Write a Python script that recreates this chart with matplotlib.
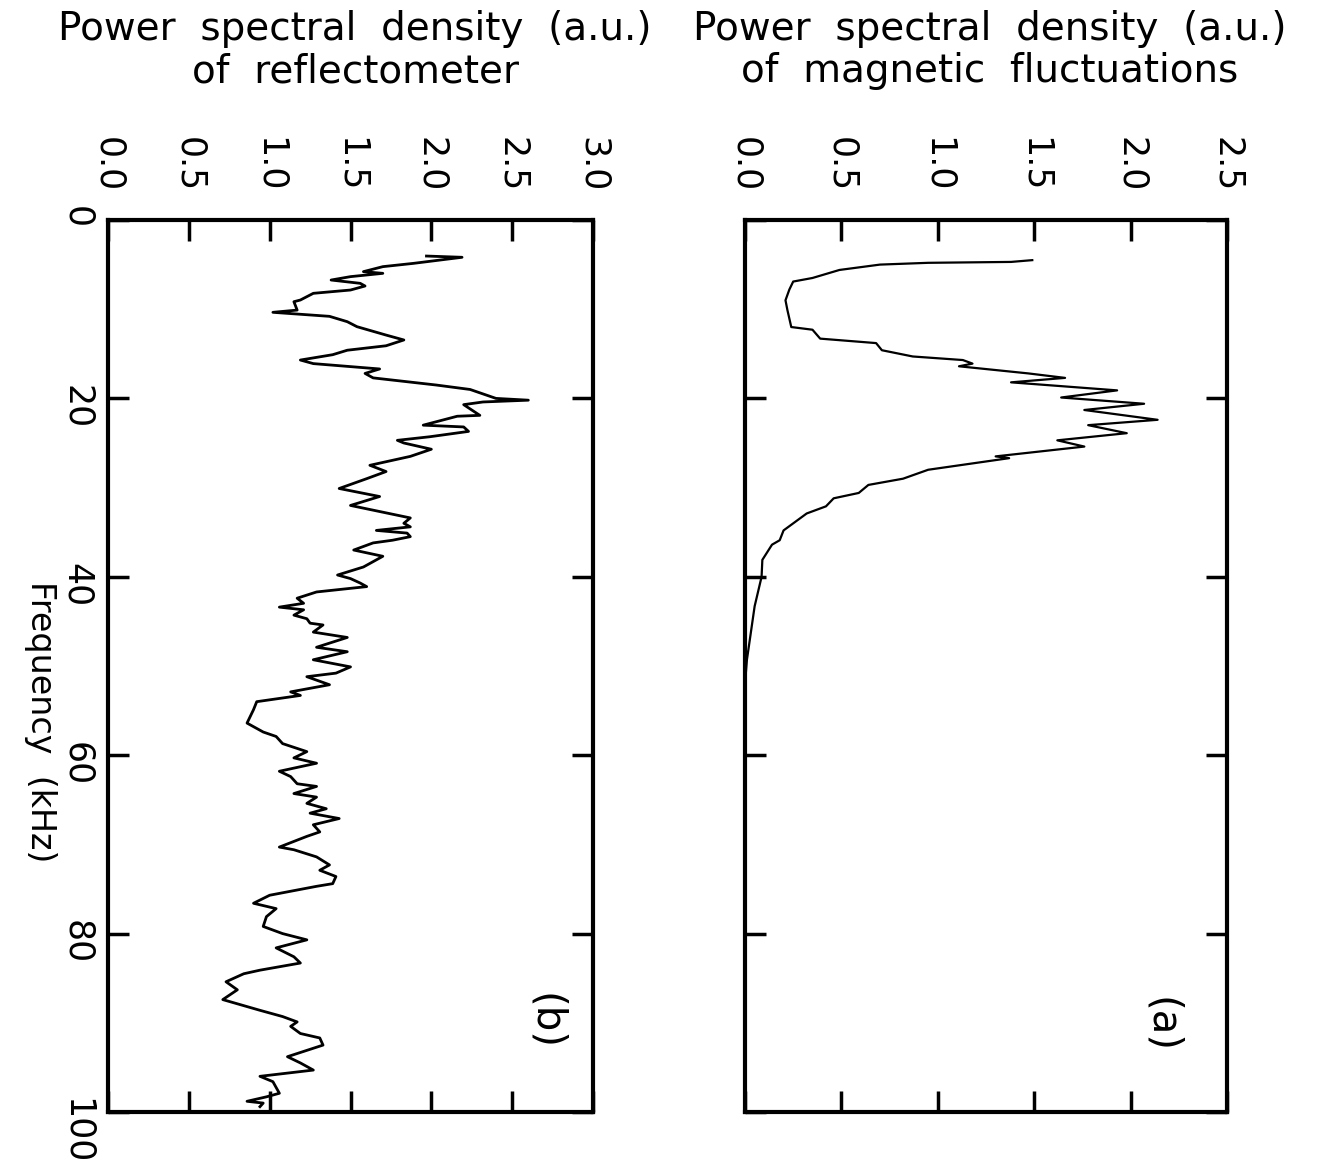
import matplotlib
matplotlib.use("Agg")
import matplotlib.pyplot as plt

plt.rcParams['font.family'] = ['DejaVu Sans']

# (b) reflectometer PSD (frequency in kHz, PSD in a.u.)
freq_b = [4.04, 4.18, 4.48, 4.86, 5.23, 5.79, 5.98, 6.35, 6.73, 7.10, 7.40, 7.85, 8.22,
          8.97, 9.16, 10.1, 10.35, 10.8, 11.4, 11.96, 12.9, 13.45, 14.1, 14.6, 15.1, 15.7,
          16.1, 16.7, 17.2, 17.7, 18.5, 19.0, 20.0, 20.2, 20.4, 20.7, 21.9, 22.0, 23.0,
          23.2, 23.7, 24.3, 24.7, 25.0, 25.7, 26.5, 27.5, 28.2, 29.0, 30.1, 31.0, 32.0,
          33.4, 34.0, 34.4, 34.8, 35.1, 35.5, 35.9,
          36.2, 37.0, 37.7, 38.9, 39.8, 40.2, 40.7, 41.1, 41.7, 42.4, 42.97, 43.4, 43.7,
          44.3, 44.7, 45.2, 45.4, 46.2, 46.8, 47.9, 48.4, 49.3, 50.1, 50.8, 51.2, 52.1,
          52.9, 53.3, 54.0, 54.9, 56.4, 57.4, 57.9, 58.7, 59.6, 60.3, 60.9, 61.8, 62.4,
          63.2, 63.5, 64.3, 64.7, 65.4, 66.0, 66.5, 67.1, 67.8, 68.6, 69.1, 70.3, 70.6,
          71.4, 72.3, 72.9, 73.6, 74.4, 74.7, 75.7, 76.6, 77.2, 78.1, 79.2, 80.0, 80.7,
          81.6, 82.6, 83.3, 84.1, 84.5, 85.4, 86.3, 87.4, 88.6, 89.3, 89.9, 90.4, 91.2,
          91.7, 92.5, 93.8, 94.5, 95.3, 96.0, 96.6, 97.9, 98.3, 98.8, 99.0, 99.4]
psd_b = [1.97, 2.19, 2.06, 1.89, 1.70, 1.58, 1.70, 1.50, 1.38, 1.56, 1.59, 1.50, 1.27,
         1.19, 1.15, 1.17, 1.02, 1.37, 1.48, 1.54, 1.72, 1.83, 1.72, 1.48, 1.39, 1.19,
         1.27, 1.68, 1.59, 1.64, 2.03, 2.24, 2.40, 2.60, 2.32, 2.20, 2.30, 2.16, 1.95,
         2.20, 2.23, 1.99, 1.79, 1.83, 2.00, 1.87, 1.62, 1.72, 1.60, 1.43, 1.68, 1.50,
         1.87, 1.83, 1.87, 1.66, 1.85, 1.87, 1.76,
         1.64, 1.52, 1.70, 1.58, 1.42, 1.50, 1.56, 1.60, 1.29, 1.17, 1.21, 1.06, 1.21,
         1.15, 1.23, 1.25, 1.33, 1.27, 1.48, 1.29, 1.48, 1.27, 1.50, 1.41, 1.23, 1.37,
         1.13, 1.19, 0.92, 0.90, 0.86, 0.96, 1.04, 1.08, 1.23, 1.15, 1.29, 1.06, 1.13,
         1.17, 1.29, 1.15, 1.29, 1.23, 1.35, 1.25, 1.43, 1.27, 1.31, 1.23, 1.06, 1.15,
         1.29, 1.37, 1.31, 1.41, 1.39, 1.29, 1.00, 0.90, 1.04, 0.98, 0.96, 1.08, 1.23,
         1.04, 1.15, 1.19, 0.94, 0.84, 0.73, 0.80, 0.71, 0.94, 1.08, 1.17, 1.13, 1.19,
         1.31, 1.33, 1.11, 1.19, 1.27, 0.94, 1.02, 1.06, 0.98, 0.86, 0.96, 0.94]

# (a) magnetic fluctuation PSD
freq_a = [4.5, 4.7, 4.8, 5.0, 5.6, 6.5, 6.9, 7.8, 9.0, 10.1, 12.0, 12.3, 13.3, 13.8,
          14.6, 15.3, 15.7, 16.1, 16.4, 17.2, 17.7, 18.2, 19.1, 19.9, 20.6, 21.3, 22.4,
          23.0, 23.9, 24.7, 25.4, 26.5, 26.7, 28.0, 29.0, 29.7, 30.6, 31.2, 32.1, 32.9,
          34.8, 35.9, 36.4, 38.1, 40.0, 43.3, 49.3, 52.0]
psd_a = [1.49, 1.38, 0.95, 0.70, 0.49, 0.35, 0.25, 0.23, 0.21, 0.22, 0.24, 0.35, 0.39, 0.68,
         0.71, 0.87, 1.13, 1.18, 1.11, 1.47, 1.66, 1.38, 1.93, 1.64, 2.07, 1.76, 2.14,
         1.78, 1.98, 1.62, 1.76, 1.30, 1.37, 0.95, 0.82, 0.64, 0.59, 0.46, 0.42, 0.32,
         0.20, 0.18, 0.14, 0.09, 0.086, 0.05, 0.01, 0.0]

freq_ticks = [0, 20, 40, 60, 80, 100]
ticks_b = [0.0, 0.5, 1.0, 1.5, 2.0, 2.5, 3.0]
ticks_a = [0.0, 0.5, 1.0, 1.5, 2.0, 2.5]

W, H = 1318, 1164
fig = plt.figure(figsize=(W / 100, H / 100), dpi=100)

ax_b = fig.add_axes([108 / W, 1 - 1112 / H, 485 / W, 892 / H])
ax_a = fig.add_axes([745 / W, 1 - 1112 / H, 482 / W, 892 / H])


def style(ax, xticks, xmax, show_freq):
    ax.set_xlim(0, xmax)
    ax.set_ylim(100, 0)
    ax.set_xticks(xticks)
    ax.set_xticklabels([f"{t:.1f}" for t in xticks])
    ax.set_yticks(freq_ticks)
    ax.set_yticklabels([str(t) for t in freq_ticks])
    ax.tick_params(direction='in', length=15, width=2.5,
                   top=True, bottom=True, left=True, right=True,
                   labelsize=25)
    ax.tick_params(axis='x', labeltop=True, labelbottom=False, labelrotation=-90, pad=20)
    ax.tick_params(axis='y', labelleft=show_freq, labelrotation=-90, pad=10)
    for s in ax.spines.values():
        s.set_linewidth(3)


ax_b.plot(psd_b, freq_b, color='black', lw=2.0)
style(ax_b, ticks_b, 3.0, True)
ax_b.text(2.70, 89.8, '(b)', rotation=-90, ha='center', va='center', fontsize=29)

ax_a.plot(psd_a, freq_a, color='black', lw=1.6)
style(ax_a, ticks_a, 2.5, False)
ax_a.text(2.16, 90.2, '(a)', rotation=-90, ha='center', va='center', fontsize=29)

fig.text(355 / W, 1 - 50 / H, 'Power  spectral  density  (a.u.)\nof  reflectometer',
         ha='center', va='center', fontsize=28, linespacing=1.15)
fig.text(990 / W, 1 - 50 / H, 'Power  spectral  density  (a.u.)\nof  magnetic  fluctuations',
         ha='center', va='center', fontsize=28, linespacing=1.15)
fig.text(40 / W, 1 - 722 / H, 'Frequency  (kHz)', rotation=-90,
         ha='center', va='center', fontsize=24)

fig.savefig('out.png', dpi=100)
